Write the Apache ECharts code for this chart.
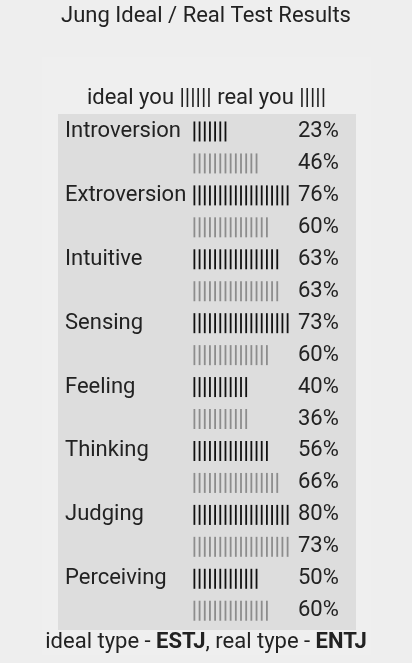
<!DOCTYPE html>
<html><head><meta charset="utf-8">
<script src="https://cdn.jsdelivr.net/npm/echarts@6/dist/echarts.min.js"></script>
<style>html,body{margin:0;padding:0;background:#eeeeee}#c{width:412px;height:663px}</style>
</head><body><div id="c"></div>
<script>
// Traits and the scores shown as text
const traits = ['Introversion','Extroversion','Intuitive','Sensing','Feeling','Thinking','Judging','Perceiving'];
const idealPct = [23,76,63,73,40,56,80,50];
const realPct  = [46,60,63,60,36,66,73,60];
// number of "|" ticks drawn in each bar
const idealBars = [6,18,16,18,10,14,18,12];
const realBars  = [12,14,16,14,10,16,18,14];
const idealType = 'ESTJ';
const realType = 'ENTJ';

const rowKeys = [], rowLabels = [], rowPct = [], idealData = [], realData = [];
traits.forEach((t, i) => {
  rowKeys.push(t + ' ideal'); rowLabels.push(t); rowPct.push(idealPct[i]);
  idealData.push(idealBars[i]); realData.push('-');
  rowKeys.push(t + ' real'); rowLabels.push(''); rowPct.push(realPct[i]);
  idealData.push('-'); realData.push(realBars[i]);
});

const FONT = 'Roboto';
const TXT = '#222';
const chart = echarts.init(document.getElementById('c'), null, {renderer: 'canvas'});
const barCommon = {
  type: 'pictorialBar', symbol: 'rect', symbolSize: [1.8, 20], symbolRepeat: true,
  symbolMargin: 1.77, barWidth: 20, silent: true, animation: false, z: 5
};
chart.setOption({
  backgroundColor: '#eeeeee',
  animation: false,
  grid: {left: 193.5, width: 95, top: 115.5, height: 511.2},
  xAxis: {type: 'value', min: 0, max: 18, show: false},
  yAxis: [
    {type: 'category', inverse: true, data: rowKeys,
     axisLine: {show: false}, axisTick: {show: false}, splitLine: {show: false},
     axisLabel: {formatter: (v, i) => rowLabels[i], align: 'left', margin: 128.5,
                 padding: [4, 0, 0, 0],
                 fontSize: 22, fontFamily: FONT, color: TXT}},
    {type: 'category', inverse: true, position: 'right', data: rowKeys,
     axisLine: {show: false}, axisTick: {show: false}, splitLine: {show: false},
     axisLabel: {formatter: (v, i) => rowPct[i] + '%', align: 'left', margin: 9.5,
                 padding: [4, 0, 0, 0],
                 fontSize: 22, fontFamily: FONT, color: TXT}}
  ],
  series: [
    Object.assign({name: 'ideal you', data: idealData, itemStyle: {color: '#111'}}, barCommon),
    Object.assign({name: 'real you', data: realData, itemStyle: {color: '#8c8c8c'}}, barCommon)
  ],
  graphic: {elements: [
    {type: 'rect', z: -10, shape: {x: 42, y: 57, width: 329, height: 598}, style: {fill: '#efefef'}, silent: true},
    {type: 'rect', z: -9, shape: {x: 58, y: 114, width: 298, height: 516}, style: {fill: '#dddddd'}, silent: true},
    {type: 'text', z: 10, x: 206, y: 16, silent: true,
     style: {text: 'Jung Ideal / Real Test Results', fontSize: 22, fontFamily: FONT, fill: TXT,
             align: 'center', verticalAlign: 'middle', textAlign: 'center', textVerticalAlign: 'middle'}},
    {type: 'text', z: 10, x: 206.5, y: 98, silent: true,
     style: {text: '{a|ideal you }{k||||||| }{a|real you }{g||||||}',
             fontSize: 22, fontFamily: FONT, fill: TXT,
             align: 'center', verticalAlign: 'middle', textAlign: 'center', textVerticalAlign: 'middle',
             rich: {a: {fontSize: 22, fontFamily: FONT, color: TXT},
                    k: {fontSize: 22, fontFamily: FONT, color: '#111'},
                    g: {fontSize: 22, fontFamily: FONT, color: '#8c8c8c'}}}},
    {type: 'text', z: 10, x: 206, y: 642, silent: true,
     style: {text: '{a|ideal type - }{b|' + idealType + '}{a|, real type - }{b|' + realType + '}',
             fontSize: 22, fontFamily: FONT, fill: TXT,
             align: 'center', verticalAlign: 'middle', textAlign: 'center', textVerticalAlign: 'middle',
             rich: {a: {fontSize: 22, fontFamily: FONT, color: TXT},
                    b: {fontSize: 22, fontFamily: FONT, color: '#111', fontWeight: 'bold'}}}}
  ]}
});
</script></body></html>
